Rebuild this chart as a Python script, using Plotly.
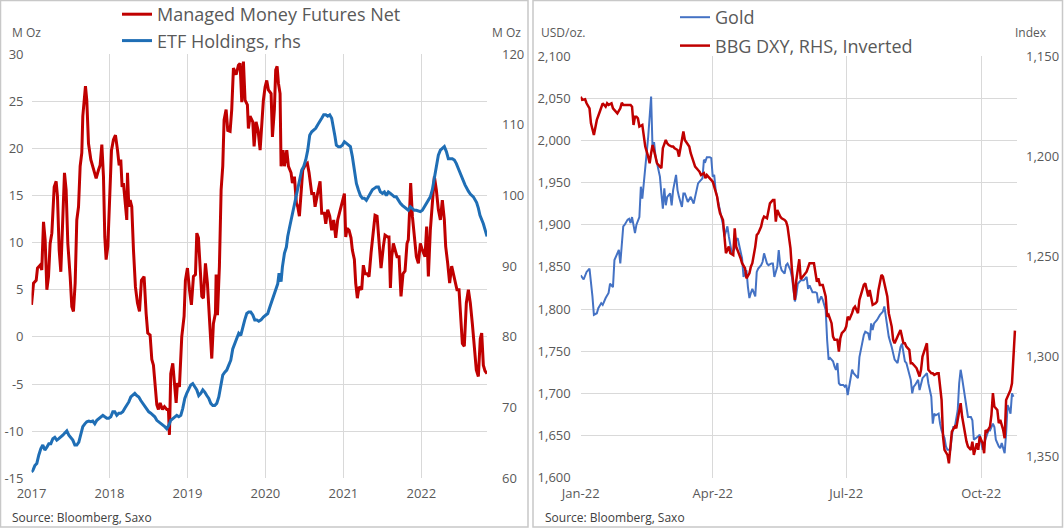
import plotly.graph_objects as go

# ---- left panel: gold COT managed money net vs ETF holdings (M oz), x as decimal years
mm_year = [2017.000, 2017.026, 2017.060, 2017.077, 2017.111, 2017.132, 2017.154, 2017.175, 2017.197, 2017.218,
           2017.239, 2017.261, 2017.291, 2017.316, 2017.333, 2017.355, 2017.376, 2017.397, 2017.423, 2017.444,
           2017.466, 2017.496, 2017.517, 2017.538, 2017.560, 2017.581, 2017.603, 2017.624, 2017.645, 2017.658,
           2017.679, 2017.692, 2017.709, 2017.731, 2017.761, 2017.795, 2017.829, 2017.859, 2017.880, 2017.902,
           2017.923, 2017.940, 2017.957, 2017.979, 2018.000, 2018.026, 2018.051, 2018.077, 2018.103, 2018.124,
           2018.145, 2018.162, 2018.179, 2018.201, 2018.222, 2018.231, 2018.248, 2018.265, 2018.286, 2018.308,
           2018.333, 2018.359, 2018.385, 2018.410, 2018.444, 2018.470, 2018.491, 2018.521, 2018.543, 2018.564,
           2018.585, 2018.607, 2018.628, 2018.650, 2018.679, 2018.705, 2018.735, 2018.756, 2018.769, 2018.786,
           2018.812, 2018.829, 2018.855, 2018.872, 2018.897, 2018.927, 2018.957, 2018.974, 2019.000, 2019.026,
           2019.051, 2019.077, 2019.103, 2019.120, 2019.141, 2019.162, 2019.184, 2019.205, 2019.231, 2019.256,
           2019.282, 2019.312, 2019.333, 2019.359, 2019.368, 2019.385, 2019.410, 2019.432, 2019.453, 2019.470,
           2019.496, 2019.517, 2019.547, 2019.568, 2019.590, 2019.624, 2019.654, 2019.675, 2019.697, 2019.718,
           2019.739, 2019.769, 2019.782, 2019.803, 2019.838, 2019.855, 2019.880, 2019.906, 2019.932, 2019.953,
           2019.974, 2019.996, 2020.017, 2020.038, 2020.073, 2020.090, 2020.115, 2020.132, 2020.150, 2020.167,
           2020.188, 2020.201, 2020.226, 2020.243, 2020.274, 2020.295, 2020.329, 2020.346, 2020.372, 2020.397,
           2020.415, 2020.436, 2020.457, 2020.479, 2020.509, 2020.538, 2020.560, 2020.594, 2020.620, 2020.637,
           2020.662, 2020.679, 2020.701, 2020.722, 2020.756, 2020.774, 2020.799, 2020.825, 2020.850, 2020.876,
           2020.902, 2020.927, 2020.962, 2020.987, 2021.013, 2021.030, 2021.047, 2021.073, 2021.098, 2021.115,
           2021.141, 2021.158, 2021.179, 2021.201, 2021.235, 2021.256, 2021.278, 2021.303, 2021.329, 2021.355,
           2021.380, 2021.406, 2021.432, 2021.457, 2021.483, 2021.513, 2021.534, 2021.568, 2021.585, 2021.603,
           2021.620, 2021.641, 2021.662, 2021.688, 2021.714, 2021.739, 2021.765, 2021.791, 2021.816, 2021.833,
           2021.850, 2021.863, 2021.885, 2021.910, 2021.936, 2021.962, 2021.987, 2022.013, 2022.047, 2022.068,
           2022.090, 2022.115, 2022.141, 2022.167, 2022.192, 2022.218, 2022.244, 2022.269, 2022.295, 2022.312,
           2022.338, 2022.363, 2022.389, 2022.415, 2022.432, 2022.457, 2022.483, 2022.500, 2022.526, 2022.551,
           2022.577, 2022.603, 2022.628, 2022.654, 2022.679, 2022.705, 2022.731, 2022.756, 2022.774, 2022.795,
           2022.816, 2022.842]
mm_net = [3.4, 5.7, 6.0, 7.3, 7.6, 7.1, 12.2, 10.3, 5.0, 6.4,
          9.9, 11.0, 15.9, 16.5, 14.9, 9.2, 6.9, 12.0, 17.4, 15.6,
          9.9, 6.4, 3.2, 2.7, 5.7, 12.4, 13.8, 18.1, 19.5, 23.4,
          25.8, 26.6, 25.1, 20.5, 18.8, 17.7, 16.8, 17.7, 18.2, 20.4,
          17.0, 10.6, 8.2, 9.6, 13.5, 19.8, 20.9, 21.4, 19.8, 18.2,
          18.8, 15.9, 16.3, 14.2, 12.4, 17.4, 13.8, 14.5, 13.8, 9.2,
          5.3, 3.6, 2.7, 6.0, 6.4, 2.5, 0.4, 0.2, -2.4, -3.0,
          -4.9, -7.2, -7.7, -7.0, -7.7, -7.4, -7.7, -7.7, -10.4, -3.9,
          -2.8, -4.6, -7.0, -4.9, -5.3, 0.0, 2.2, 6.0, 7.3, 5.0,
          3.4, 6.4, 6.6, 11.0, 10.5, 7.5, 4.3, 4.1, 7.8, 5.7,
          1.4, -2.3, 1.4, 2.5, 6.6, 2.3, 7.5, 15.6, 18.1, 23.0,
          24.1, 21.9, 21.8, 24.1, 28.5, 27.8, 28.8, 29.0, 24.9, 29.2,
          25.1, 24.6, 22.1, 23.4, 22.8, 20.2, 22.8, 21.9, 19.8, 22.3,
          25.1, 26.5, 27.2, 26.2, 25.8, 21.2, 24.1, 28.3, 28.7, 26.9,
          25.8, 18.1, 19.8, 18.1, 19.8, 18.1, 17.4, 16.3, 17.0, 14.2,
          13.8, 12.8, 15.6, 17.7, 18.2, 18.4, 17.4, 15.2, 15.2, 13.8,
          14.9, 15.6, 16.5, 13.1, 13.1, 12.0, 13.5, 12.8, 11.3, 12.4,
          10.5, 12.4, 13.5, 14.2, 15.2, 10.6, 11.5, 11.3, 10.5, 9.2,
          8.2, 5.7, 4.1, 5.3, 5.0, 7.6, 6.7, 6.7, 6.4, 8.9,
          11.3, 12.9, 12.8, 9.9, 7.3, 9.6, 10.8, 10.6, 10.6, 5.2,
          8.5, 9.9, 9.2, 8.5, 8.5, 4.3, 6.7, 7.0, 9.9, 10.3,
          13.5, 16.3, 12.8, 10.3, 8.5, 7.8, 9.9, 9.2, 8.5, 11.7,
          6.4, 11.3, 14.5, 17.0, 15.6, 13.5, 12.4, 14.5, 12.4, 9.6,
          7.8, 5.7, 7.5, 6.4, 6.0, 5.0, 5.0, 2.2, -0.7, -1.0,
          3.6, 5.0, 3.6, 1.4, -1.4, -3.5, -4.2, -0.2, 0.4, -3.0,
          -3.6, -3.9]

etf_year = [2017.000, 2017.017, 2017.043, 2017.068, 2017.094, 2017.120, 2017.145, 2017.171, 2017.197, 2017.222,
            2017.248, 2017.274, 2017.299, 2017.325, 2017.350, 2017.376, 2017.402, 2017.427, 2017.453, 2017.479,
            2017.504, 2017.530, 2017.556, 2017.581, 2017.607, 2017.632, 2017.658, 2017.684, 2017.709, 2017.735,
            2017.761, 2017.786, 2017.812, 2017.838, 2017.863, 2017.889, 2017.915, 2017.940, 2017.966, 2017.991,
            2018.017, 2018.043, 2018.068, 2018.094, 2018.120, 2018.145, 2018.171, 2018.197, 2018.222, 2018.248,
            2018.274, 2018.299, 2018.325, 2018.350, 2018.376, 2018.402, 2018.427, 2018.453, 2018.479, 2018.504,
            2018.530, 2018.556, 2018.581, 2018.607, 2018.632, 2018.658, 2018.684, 2018.709, 2018.735, 2018.761,
            2018.786, 2018.812, 2018.838, 2018.863, 2018.889, 2018.915, 2018.940, 2018.966, 2018.991, 2019.017,
            2019.043, 2019.068, 2019.094, 2019.120, 2019.145, 2019.171, 2019.197, 2019.222, 2019.248, 2019.274,
            2019.299, 2019.325, 2019.350, 2019.376, 2019.402, 2019.427, 2019.453, 2019.479, 2019.504, 2019.530,
            2019.556, 2019.581, 2019.607, 2019.632, 2019.658, 2019.684, 2019.709, 2019.735, 2019.761, 2019.786,
            2019.812, 2019.838, 2019.863, 2019.889, 2019.915, 2019.944, 2019.974, 2020.004, 2020.030, 2020.056,
            2020.081, 2020.107, 2020.132, 2020.158, 2020.175, 2020.201, 2020.218, 2020.244, 2020.269, 2020.286,
            2020.312, 2020.338, 2020.363, 2020.389, 2020.415, 2020.440, 2020.466, 2020.491, 2020.517, 2020.543,
            2020.568, 2020.594, 2020.620, 2020.645, 2020.671, 2020.697, 2020.722, 2020.748, 2020.774, 2020.799,
            2020.825, 2020.850, 2020.876, 2020.893, 2020.910, 2020.936, 2020.962, 2020.987, 2021.013, 2021.038,
            2021.064, 2021.090, 2021.115, 2021.141, 2021.167, 2021.192, 2021.218, 2021.244, 2021.269, 2021.295,
            2021.320, 2021.346, 2021.372, 2021.397, 2021.423, 2021.449, 2021.474, 2021.500, 2021.526, 2021.551,
            2021.577, 2021.603, 2021.628, 2021.654, 2021.679, 2021.705, 2021.731, 2021.756, 2021.782, 2021.808,
            2021.833, 2021.859, 2021.885, 2021.910, 2021.936, 2021.962, 2021.987, 2022.013, 2022.038, 2022.064,
            2022.090, 2022.115, 2022.141, 2022.167, 2022.192, 2022.218, 2022.244, 2022.269, 2022.295, 2022.321,
            2022.346, 2022.372, 2022.397, 2022.423, 2022.449, 2022.474, 2022.496, 2022.530, 2022.560, 2022.603,
            2022.628, 2022.667, 2022.709, 2022.731, 2022.752, 2022.795, 2022.842]
etf_holdings = [60.9, 61.1, 61.8, 62.1, 63.3, 64.2, 64.7, 64.0, 64.4, 64.9,
                64.9, 65.6, 65.8, 65.4, 65.6, 65.8, 66.1, 66.4, 66.7, 66.1,
                65.8, 65.4, 64.7, 64.7, 65.1, 66.4, 67.3, 67.7, 68.0, 68.1,
                68.0, 68.1, 67.7, 68.2, 68.4, 68.7, 68.9, 68.7, 68.5, 68.5,
                68.7, 69.4, 69.4, 68.9, 69.2, 69.2, 69.4, 69.9, 70.3, 70.8,
                71.5, 71.7, 72.0, 71.7, 71.5, 71.0, 70.6, 70.2, 69.9, 69.4,
                69.2, 68.9, 68.7, 68.2, 68.0, 67.8, 67.5, 67.3, 67.0, 67.5,
                68.2, 68.4, 68.7, 68.9, 68.7, 68.9, 69.9, 71.3, 72.0, 72.7,
                73.2, 73.4, 72.9, 72.5, 71.7, 72.0, 72.5, 72.2, 71.7, 71.3,
                70.6, 70.3, 70.3, 70.6, 71.5, 72.9, 74.6, 75.0, 75.3, 76.0,
                76.7, 78.3, 79.1, 79.8, 80.5, 80.2, 81.4, 82.4, 83.3, 83.5,
                83.5, 83.1, 82.4, 82.4, 82.2, 82.4, 82.8, 83.1, 83.3, 84.2,
                85.0, 85.7, 86.4, 87.5, 89.0, 87.8, 89.9, 91.8, 92.7, 94.2,
                95.6, 97.0, 98.4, 99.8, 101.2, 102.4, 103.6, 104.1, 105.0, 106.4,
                108.5, 109.0, 109.2, 109.5, 110.0, 110.4, 110.9, 111.4, 111.4, 111.2,
                111.4, 110.9, 109.5, 108.3, 107.1, 106.9, 106.9, 107.1, 107.6, 107.4,
                107.1, 106.9, 105.5, 103.6, 101.7, 100.8, 100.0, 99.6, 99.6, 99.3,
                99.8, 100.3, 100.8, 101.0, 101.2, 101.2, 100.5, 100.3, 100.5, 100.0,
                100.5, 100.3, 100.0, 99.8, 99.8, 99.3, 98.9, 98.6, 98.4, 98.2,
                97.9, 98.4, 98.2, 97.9, 97.9, 97.8, 97.7, 97.9, 98.4, 98.9,
                99.3, 99.8, 100.8, 102.6, 104.5, 105.7, 106.4, 106.7, 106.9, 106.2,
                105.2, 105.2, 105.2, 105.0, 104.5, 103.8, 103.2, 102.2, 101.5, 100.6,
                100.2, 99.8, 99.0, 98.2, 97.2, 96.0, 94.2]

year_ticks = [2017, 2018, 2019, 2020, 2021, 2022]
year_labels = ["2017", "2018", "2019", "2020", "2021", "2022"]
left_ticks = [-15, -10, -5, 0, 5, 10, 15, 20, 25, 30]
left_labels = ["-15", "-10", "-5", "0", "5", "10", "15", "20", "25", "30"]
rhs_ticks = [60, 70, 80, 90, 100, 110, 120]

# ---- right panel: gold spot vs Bloomberg dollar index (inverted)
gold_dates = ["2022-01-19", "2022-01-21", "2022-01-23", "2022-01-25", "2022-01-27", "2022-01-28", "2022-01-30", "2022-01-31",
              "2022-02-02", "2022-02-03", "2022-02-05", "2022-02-07", "2022-02-08", "2022-02-10", "2022-02-11", "2022-02-13",
              "2022-02-14", "2022-02-15", "2022-02-17", "2022-02-18", "2022-02-20", "2022-02-21", "2022-02-22", "2022-02-23",
              "2022-02-25", "2022-02-26", "2022-02-28", "2022-03-01", "2022-03-02", "2022-03-03", "2022-03-05", "2022-03-06",
              "2022-03-08", "2022-03-09", "2022-03-10", "2022-03-11", "2022-03-12", "2022-03-14", "2022-03-15", "2022-03-16",
              "2022-03-17", "2022-03-18", "2022-03-19", "2022-03-21", "2022-03-22", "2022-03-23", "2022-03-25", "2022-03-26",
              "2022-03-27", "2022-03-29", "2022-03-30", "2022-03-31", "2022-04-02", "2022-04-03", "2022-04-04", "2022-04-06",
              "2022-04-07", "2022-04-09", "2022-04-10", "2022-04-12", "2022-04-13", "2022-04-14", "2022-04-15", "2022-04-17",
              "2022-04-18", "2022-04-19", "2022-04-20", "2022-04-21", "2022-04-22", "2022-04-24", "2022-04-25", "2022-04-26",
              "2022-04-27", "2022-04-29", "2022-04-30", "2022-05-01", "2022-05-02", "2022-05-04", "2022-05-05", "2022-05-06",
              "2022-05-08", "2022-05-09", "2022-05-10", "2022-05-12", "2022-05-13", "2022-05-14", "2022-05-15", "2022-05-16",
              "2022-05-18", "2022-05-19", "2022-05-20", "2022-05-22", "2022-05-23", "2022-05-24", "2022-05-26", "2022-05-27",
              "2022-05-29", "2022-05-30", "2022-05-31", "2022-06-02", "2022-06-03", "2022-06-04", "2022-06-05", "2022-06-07",
              "2022-06-08", "2022-06-09", "2022-06-11", "2022-06-12", "2022-06-13", "2022-06-14", "2022-06-15", "2022-06-16",
              "2022-06-18", "2022-06-20", "2022-06-22", "2022-06-23", "2022-06-24", "2022-06-26", "2022-06-28", "2022-06-29",
              "2022-06-30", "2022-07-02", "2022-07-03", "2022-07-05", "2022-07-06", "2022-07-07", "2022-07-08", "2022-07-10",
              "2022-07-11", "2022-07-12", "2022-07-13", "2022-07-14", "2022-07-15", "2022-07-17", "2022-07-18", "2022-07-19",
              "2022-07-20", "2022-07-22", "2022-07-23", "2022-07-24", "2022-07-25", "2022-07-27", "2022-07-28", "2022-07-30",
              "2022-07-31", "2022-08-01", "2022-08-03", "2022-08-04", "2022-08-05", "2022-08-06", "2022-08-07", "2022-08-09",
              "2022-08-10", "2022-08-11", "2022-08-13", "2022-08-14", "2022-08-15", "2022-08-16", "2022-08-17", "2022-08-19",
              "2022-08-20", "2022-08-21", "2022-08-23", "2022-08-24", "2022-08-25", "2022-08-26", "2022-08-28", "2022-08-29",
              "2022-08-30", "2022-09-01", "2022-09-02", "2022-09-03", "2022-09-04", "2022-09-06", "2022-09-07", "2022-09-08",
              "2022-09-09", "2022-09-11", "2022-09-12", "2022-09-13", "2022-09-15", "2022-09-16", "2022-09-17", "2022-09-18",
              "2022-09-20", "2022-09-21", "2022-09-22", "2022-09-24", "2022-09-25", "2022-09-26", "2022-09-28", "2022-09-29",
              "2022-09-30", "2022-10-01", "2022-10-03", "2022-10-04", "2022-10-05", "2022-10-06", "2022-10-08", "2022-10-09",
              "2022-10-10", "2022-10-12", "2022-10-13", "2022-10-14", "2022-10-16", "2022-10-17", "2022-10-18", "2022-10-20",
              "2022-10-21", "2022-10-23", "2022-10-24", "2022-10-25", "2022-10-27", "2022-10-28", "2022-10-29", "2022-10-31",
              "2022-11-01", "2022-11-02", "2022-11-04", "2022-11-05", "2022-11-06", "2022-11-07", "2022-11-08", "2022-11-09",
              "2022-11-10"]
gold_price = [1840, 1835, 1844, 1848, 1815, 1793, 1795, 1801,
              1807, 1805, 1813, 1819, 1830, 1826, 1858, 1866,
              1870, 1854, 1898, 1900, 1906, 1907, 1902, 1909,
              1890, 1900, 1909, 1945, 1931, 1949, 1981, 2004,
              2052, 1989, 1998, 1981, 1973, 1957, 1937, 1919,
              1943, 1923, 1933, 1937, 1923, 1941, 1959, 1941,
              1933, 1921, 1937, 1937, 1927, 1931, 1933, 1925,
              1933, 1949, 1951, 1955, 1977, 1975, 1980, 1980,
              1979, 1957, 1959, 1941, 1933, 1917, 1906, 1900,
              1886, 1898, 1886, 1874, 1866, 1872, 1882, 1884,
              1870, 1860, 1838, 1846, 1826, 1813, 1819, 1824,
              1815, 1844, 1848, 1852, 1856, 1866, 1854, 1852,
              1854, 1854, 1838, 1850, 1870, 1852, 1846, 1842,
              1852, 1854, 1846, 1838, 1823, 1809, 1817, 1830,
              1834, 1834, 1838, 1824, 1828, 1820, 1820, 1819,
              1807, 1815, 1811, 1799, 1763, 1740, 1742, 1738,
              1732, 1728, 1736, 1712, 1710, 1710, 1708, 1710,
              1698, 1720, 1728, 1724, 1722, 1718, 1743, 1763,
              1769, 1773, 1771, 1763, 1783, 1775, 1783, 1787,
              1791, 1793, 1797, 1803, 1791, 1779, 1767, 1755,
              1745, 1740, 1736, 1747, 1755, 1759, 1738, 1736,
              1730, 1716, 1700, 1708, 1710, 1716, 1704, 1710,
              1718, 1722, 1724, 1712, 1696, 1664, 1676, 1674,
              1676, 1664, 1656, 1647, 1637, 1633, 1633, 1649,
              1660, 1660, 1680, 1712, 1728, 1718, 1696, 1680,
              1672, 1672, 1668, 1645, 1647, 1649, 1651, 1633,
              1641, 1653, 1656, 1656, 1664, 1660, 1645, 1637,
              1635, 1641, 1629, 1653, 1686, 1682, 1676, 1700,
              1696]

dxy_dates = ["2022-01-19", "2022-01-20", "2022-01-22", "2022-01-23", "2022-01-25", "2022-01-26", "2022-01-28", "2022-01-29",
             "2022-01-30", "2022-02-01", "2022-02-02", "2022-02-03", "2022-02-05", "2022-02-06", "2022-02-07", "2022-02-09",
             "2022-02-10", "2022-02-12", "2022-02-13", "2022-02-15", "2022-02-16", "2022-02-17", "2022-02-19", "2022-02-20",
             "2022-02-22", "2022-02-23", "2022-02-24", "2022-02-25", "2022-02-26", "2022-02-27", "2022-02-28", "2022-03-02",
             "2022-03-03", "2022-03-04", "2022-03-06", "2022-03-07", "2022-03-08", "2022-03-09", "2022-03-11", "2022-03-12",
             "2022-03-14", "2022-03-15", "2022-03-16", "2022-03-18", "2022-03-19", "2022-03-20", "2022-03-22", "2022-03-23",
             "2022-03-24", "2022-03-26", "2022-03-27", "2022-03-29", "2022-03-30", "2022-03-31", "2022-04-02", "2022-04-03",
             "2022-04-04", "2022-04-06", "2022-04-07", "2022-04-09", "2022-04-10", "2022-04-11", "2022-04-13", "2022-04-14",
             "2022-04-15", "2022-04-19", "2022-04-20", "2022-04-22", "2022-04-23", "2022-04-24", "2022-04-26", "2022-04-27",
             "2022-04-28", "2022-04-30", "2022-05-01", "2022-05-03", "2022-05-04", "2022-05-05", "2022-05-07", "2022-05-08",
             "2022-05-09", "2022-05-11", "2022-05-12", "2022-05-14", "2022-05-15", "2022-05-16", "2022-05-18", "2022-05-19",
             "2022-05-20", "2022-05-22", "2022-05-23", "2022-05-24", "2022-05-26", "2022-05-27", "2022-05-28", "2022-05-30",
             "2022-05-31", "2022-06-01", "2022-06-02", "2022-06-04", "2022-06-05", "2022-06-07", "2022-06-08", "2022-06-09",
             "2022-06-11", "2022-06-12", "2022-06-13", "2022-06-14", "2022-06-15", "2022-06-17", "2022-06-18", "2022-06-20",
             "2022-06-22", "2022-06-24", "2022-06-25", "2022-06-27", "2022-06-29", "2022-06-30", "2022-07-01", "2022-07-03",
             "2022-07-05", "2022-07-06", "2022-07-07", "2022-07-09", "2022-07-10", "2022-07-11", "2022-07-13", "2022-07-14",
             "2022-07-15", "2022-07-16", "2022-07-18", "2022-07-19", "2022-07-20", "2022-07-21", "2022-07-23", "2022-07-24",
             "2022-07-25", "2022-07-27", "2022-07-28", "2022-07-30", "2022-07-31", "2022-08-01", "2022-08-03", "2022-08-04",
             "2022-08-05", "2022-08-06", "2022-08-08", "2022-08-09", "2022-08-10", "2022-08-12", "2022-08-13", "2022-08-14",
             "2022-08-16", "2022-08-17", "2022-08-19", "2022-08-20", "2022-08-21", "2022-08-23", "2022-08-24", "2022-08-25",
             "2022-08-27", "2022-08-28", "2022-08-29", "2022-08-31", "2022-09-01", "2022-09-02", "2022-09-04", "2022-09-05",
             "2022-09-07", "2022-09-08", "2022-09-09", "2022-09-11", "2022-09-12", "2022-09-13", "2022-09-15", "2022-09-16",
             "2022-09-17", "2022-09-19", "2022-09-20", "2022-09-22", "2022-09-23", "2022-09-24", "2022-09-26", "2022-09-27",
             "2022-09-28", "2022-09-29", "2022-10-01", "2022-10-02", "2022-10-03", "2022-10-05", "2022-10-06", "2022-10-08",
             "2022-10-09", "2022-10-10", "2022-10-12", "2022-10-13", "2022-10-14", "2022-10-16", "2022-10-17", "2022-10-18",
             "2022-10-20", "2022-10-21", "2022-10-22", "2022-10-23", "2022-10-25", "2022-10-26", "2022-10-27", "2022-10-28",
             "2022-10-30", "2022-10-31", "2022-11-01", "2022-11-03", "2022-11-04", "2022-11-05", "2022-11-06", "2022-11-08",
             "2022-11-09", "2022-11-10", "2022-11-11"]
dxy_index = [1170.3, 1171.9, 1171.6, 1173.6, 1176.1, 1183.6, 1189.4, 1186.1,
             1181.9, 1177.8, 1175.3, 1173.6, 1175.3, 1173.6, 1174.4, 1173.6,
             1176.1, 1177.8, 1178.6, 1176.1, 1173.3, 1174.4, 1174.4, 1174.4,
             1174.4, 1175.3, 1184.4, 1180.3, 1180.3, 1181.1, 1185.2, 1184.4,
             1190.2, 1195.2, 1200.2, 1203.5, 1198.5, 1194.4, 1200.2, 1203.5,
             1205.2, 1206.0, 1196.0, 1191.9, 1193.6, 1194.4, 1195.2, 1195.2,
             1196.0, 1196.9, 1200.2, 1192.7, 1187.7, 1191.9, 1194.4, 1195.2,
             1198.5, 1202.7, 1205.2, 1206.9, 1207.7, 1209.4, 1208.5, 1211.0,
             1209.4, 1212.7, 1215.0, 1220.2, 1225.1, 1228.5, 1231.8, 1239.3,
             1248.4, 1245.1, 1248.4, 1249.3, 1236.0, 1245.1, 1248.4, 1250.9,
             1253.4, 1255.9, 1260.9, 1258.4, 1255.1, 1253.4, 1245.1, 1239.3,
             1238.5, 1235.1, 1231.8, 1230.1, 1231.0, 1226.0, 1223.5, 1221.8,
             1221.8, 1232.6, 1226.8, 1230.1, 1231.0, 1231.8, 1232.6, 1235.1,
             1246.0, 1256.7, 1266.7, 1271.7, 1261.7, 1251.4, 1261.4, 1259.7,
             1257.6, 1253.4, 1253.4, 1253.4, 1262.6, 1260.9, 1264.2, 1264.2,
             1270.0, 1280.0, 1279.2, 1283.3, 1290.0, 1291.6, 1291.6, 1297.5,
             1290.8, 1288.3, 1286.7, 1285.0, 1280.0, 1281.7, 1278.3, 1275.9,
             1275.0, 1278.3, 1271.7, 1266.7, 1264.2, 1263.4, 1270.0, 1266.7,
             1270.0, 1274.2, 1273.4, 1272.5, 1266.7, 1259.2, 1260.1, 1263.4,
             1270.0, 1278.3, 1285.0, 1291.6, 1293.3, 1290.0, 1288.3, 1286.7,
             1293.3, 1293.3, 1295.0, 1296.6, 1303.3, 1303.3, 1304.9, 1305.8,
             1309.9, 1306.6, 1300.0, 1295.8, 1293.3, 1306.6, 1308.3, 1308.3,
             1309.1, 1308.3, 1308.3, 1321.6, 1339.9, 1346.5, 1349.0, 1353.2,
             1344.9, 1337.4, 1334.9, 1335.7, 1331.5, 1323.2, 1329.9, 1339.9,
             1342.4, 1344.9, 1346.5, 1342.4, 1349.0, 1343.2, 1346.5, 1339.9,
             1343.2, 1348.2, 1336.6, 1337.4, 1334.9, 1329.1, 1318.2, 1324.9,
             1326.6, 1333.2, 1331.5, 1336.6, 1340.7, 1321.6, 1319.9, 1316.6,
             1313.3, 1300.0, 1287.0]

quarter_ticks = ["2022-01-19", "2022-04-19", "2022-07-19", "2022-10-19"]
quarter_labels = ["Jan-22", "Apr-22", "Jul-22", "Oct-22"]
gold_ticks = list(range(1600, 2101, 50))
dxy_ticks = [1150, 1200, 1250, 1300, 1350]

W, H = 1064, 532
FONT = "Open Sans"
GREY = "#595959"
GRID = "#D9D9D9"


def px(x):
    return x / W


def py(y):
    return 1 - y / H


fig = go.Figure()

fig.add_trace(go.Scatter(x=mm_year, y=mm_net, name="Managed Money Futures Net", mode="lines",
                         line=dict(color="#C00000", width=3), xaxis="x", yaxis="y",
                         legend="legend", legendgroup="a"))
fig.add_trace(go.Scatter(x=etf_year, y=etf_holdings, name="ETF Holdings, rhs", mode="lines",
                         line=dict(color="#1F6EB5", width=3), xaxis="x", yaxis="y2",
                         legend="legend", legendgroup="b"))
fig.add_trace(go.Scatter(x=gold_dates, y=gold_price, name="Gold", mode="lines",
                         line=dict(color="#4472C4", width=2), xaxis="x2", yaxis="y3",
                         legend="legend2", legendgroup="c"))
fig.add_trace(go.Scatter(x=dxy_dates, y=dxy_index, name="BBG DXY, RHS, Inverted", mode="lines",
                         line=dict(color="#C00000", width=2.5), xaxis="x2", yaxis="y4",
                         legend="legend2", legendgroup="d"))

tickfont = dict(family=FONT, size=13, color=GREY)
common = dict(showline=False, zeroline=False, ticks="", tickfont=tickfont, gridcolor=GRID, gridwidth=1,
              automargin=False)

fig.update_layout(
    width=W, height=H, autosize=False,
    margin=dict(l=0, r=0, t=0, b=0, pad=0, autoexpand=False),
    paper_bgcolor="white", plot_bgcolor="white",
    font=dict(family=FONT, color=GREY),
    xaxis=dict(domain=[px(31.5), px(487)], range=[2017, 2022.842], tickvals=year_ticks,
               ticktext=year_labels, showgrid=True, anchor="y", ticklabelstandoff=6, **common),
    yaxis=dict(domain=[py(478.3), py(54)], range=[-15, 30], tickvals=left_ticks, ticktext=left_labels,
               showgrid=True, anchor="x", ticklabelstandoff=7, **common),
    yaxis2=dict(overlaying="y", side="right", anchor="x", range=[60, 120], tickvals=rhs_ticks,
                showgrid=False, ticklabelstandoff=14, **common),
    xaxis2=dict(domain=[px(580.7), px(1017)], type="date", range=["2022-01-19", "2022-11-12 10:00"],
                tickvals=quarter_ticks, ticktext=quarter_labels, showgrid=True, anchor="y3",
                ticklabelstandoff=6, **common),
    yaxis3=dict(domain=[py(477.7), py(56)], range=[1600, 2100], tickvals=gold_ticks, tickformat=",d",
                showgrid=True, anchor="x2", ticklabelstandoff=9, **common),
    yaxis4=dict(overlaying="y3", side="right", anchor="x2", range=[1360.4, 1150], tickvals=dxy_ticks,
                tickformat=",d", showgrid=False, ticklabelstandoff=8, **common),
    legend=dict(x=px(117), y=py(-4), xanchor="left", yanchor="top", bgcolor="rgba(0,0,0,0)",
                font=dict(family=FONT, size=18, color=GREY), tracegroupgap=0, itemwidth=30),
    legend2=dict(x=px(675), y=py(-1), xanchor="left", yanchor="top", bgcolor="rgba(0,0,0,0)",
                 font=dict(family=FONT, size=18, color=GREY), tracegroupgap=2, itemwidth=30),
)

# panel frames
for x0, x1 in [(0.5, 528), (533, 1062.5)]:
    fig.add_shape(type="rect", xref="paper", yref="paper", x0=px(x0), x1=px(x1), y0=py(527), y1=py(0.5),
                  line=dict(color="#C8C8C8", width=1.5), fillcolor="rgba(0,0,0,0)", layer="below")

labels = [("M Oz", 10, 32, GREY), ("M Oz", 490, 32, GREY), ("USD/oz.", 539, 32, GREY), ("Index", 1013, 32, GREY),
          ("Source: Bloomberg, Saxo", 10, 517, "#404040"), ("Source: Bloomberg, Saxo", 543, 517, "#404040")]
for text, x, y, col in labels:
    fig.add_annotation(text=text, x=px(x), y=py(y), xref="paper", yref="paper", xanchor="left",
                       yanchor="middle", showarrow=False, font=dict(family=FONT, size=12, color=col))

fig.write_html("out.html", config={"displayModeBar": False},
               post_script="document.body.style.margin='0';document.body.style.overflow='hidden';")
